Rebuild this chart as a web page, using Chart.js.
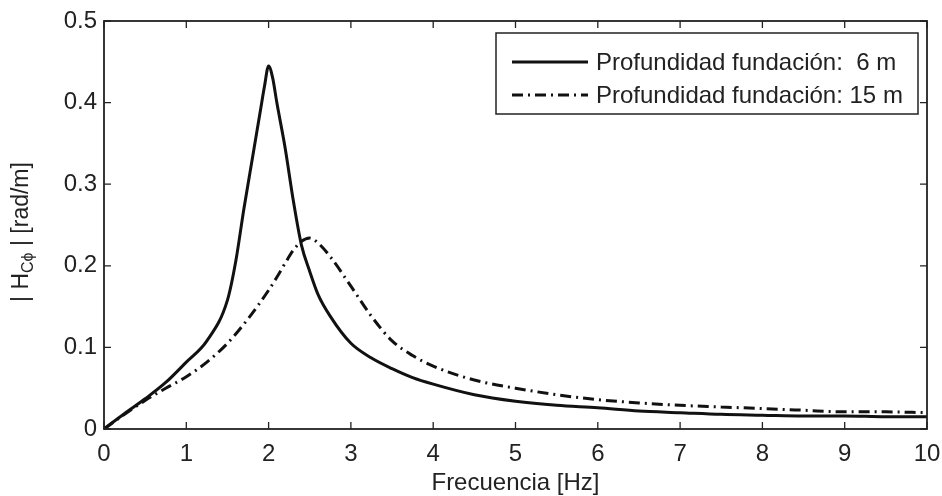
<!DOCTYPE html>
<html>
<head>
<meta charset="utf-8">
<script src="https://cdn.jsdelivr.net/npm/chart.js@4/dist/chart.umd.min.js"></script>
<style>
html,body{margin:0;padding:0;background:#fff;}
#wrap{width:942px;height:496px;}
</style>
</head>
<body>
<div id="wrap"><canvas id="c" width="942" height="496"></canvas></div>
<script>
// Data
const freq6 = [0,0.25,0.5,0.75,1,1.25,1.5,1.6,1.7,1.8,1.9,1.95,2,2.05,2.1,2.2,2.3,2.4,2.5,2.6,2.75,3,3.25,3.5,3.75,4,4.5,5,5.5,6,6.5,7,7.5,8,8.5,9,9.5,10];
const h6 = [0,0.019,0.037,0.057,0.082,0.108,0.158,0.205,0.27,0.33,0.39,0.42,0.445,0.43,0.40,0.345,0.28,0.225,0.193,0.165,0.138,0.105,0.087,0.074,0.063,0.055,0.042,0.034,0.029,0.026,0.022,0.020,0.018,0.017,0.016,0.016,0.015,0.015];
const freq15 = [0,0.25,0.5,0.75,1,1.25,1.5,1.75,2,2.1,2.2,2.3,2.4,2.5,2.6,2.75,3,3.25,3.5,3.75,4,4.5,5,5.5,6,6.5,7,7.5,8,8.5,9,9.5,10];
const h15 = [0,0.018,0.035,0.05,0.064,0.082,0.105,0.135,0.17,0.186,0.203,0.219,0.23,0.234,0.228,0.211,0.175,0.138,0.108,0.09,0.077,0.06,0.05,0.042,0.036,0.032,0.029,0.027,0.025,0.023,0.021,0.021,0.02];
const seriesLabels = ['Profundidad fundación:  6 m', 'Profundidad fundación: 15 m'];
const xTicks = [0,1,2,3,4,5,6,7,8,9,10];
const yTicks = [0,0.1,0.2,0.3,0.4,0.5];
const xTitle = 'Frecuencia [Hz]';

const FONT = 'Liberation Sans, Arial, Helvetica, sans-serif';
const INK = '#222';
const DASHDOT = [11,5,2,5];

const frame = {
  id: 'frame',
  afterDraw(chart) {
    const {ctx, chartArea: a, scales} = chart;
    ctx.save();
    ctx.strokeStyle = INK;
    ctx.lineWidth = 1.8;
    ctx.strokeRect(a.left, a.top, a.right - a.left, a.bottom - a.top);
    ctx.lineWidth = 1.3;
    const tl = 7;
    ctx.beginPath();
    xTicks.forEach(v => {
      const px = scales.x.getPixelForValue(v);
      ctx.moveTo(px, a.bottom); ctx.lineTo(px, a.bottom - tl);
      ctx.moveTo(px, a.top); ctx.lineTo(px, a.top + tl);
    });
    yTicks.forEach(v => {
      const py = scales.y.getPixelForValue(v);
      ctx.moveTo(a.left, py); ctx.lineTo(a.left + tl, py);
      ctx.moveTo(a.right, py); ctx.lineTo(a.right - tl, py);
    });
    ctx.stroke();

    // legend
    const lx = 496, ly = 33, lw = 422, lh = 81;
    ctx.fillStyle = '#fff';
    ctx.fillRect(lx, ly, lw, lh);
    ctx.lineWidth = 1.5;
    ctx.strokeStyle = INK;
    ctx.strokeRect(lx, ly, lw, lh);
    const rows = [62, 95];
    chart.data.datasets.forEach((ds, i) => {
      ctx.beginPath();
      ctx.setLineDash(ds.borderDash || []);
      ctx.lineWidth = ds.borderWidth;
      ctx.strokeStyle = ds.borderColor;
      ctx.moveTo(512, rows[i]); ctx.lineTo(588, rows[i]);
      ctx.stroke();
      ctx.setLineDash([]);
      ctx.fillStyle = INK;
      ctx.font = '24px ' + FONT;
      ctx.textBaseline = 'middle';
      ctx.textAlign = 'left';
      ctx.fillText(ds.label, 596, rows[i] + 1);
    });

    // x title
    ctx.fillStyle = INK;
    ctx.font = '24px ' + FONT;
    ctx.textAlign = 'center';
    ctx.textBaseline = 'middle';
    ctx.fillText(xTitle, (a.left + a.right) / 2, 483);

    // y title with subscript
    ctx.translate(22, 232);
    ctx.rotate(-Math.PI / 2);
    ctx.textAlign = 'left';
    ctx.textBaseline = 'middle';
    const p1 = '| H', sub = 'Cϕ', p2 = ' | [rad/m]';
    ctx.font = '23px ' + FONT;
    const w1 = ctx.measureText(p1).width;
    const w3 = ctx.measureText(p2).width;
    ctx.font = '16px ' + FONT;
    const w2 = ctx.measureText(sub).width;
    const total = w1 + w2 + w3;
    let x0 = -total / 2;
    ctx.font = '23px ' + FONT;
    ctx.fillText(p1, x0, 0);
    ctx.font = '16px ' + FONT;
    ctx.fillText(sub, x0 + w1, 7);
    ctx.font = '23px ' + FONT;
    ctx.fillText(p2, x0 + w1 + w2, 0);
    ctx.restore();
  }
};

new Chart(document.getElementById('c'), {
  type: 'line',
  data: {
    datasets: [
      {
        label: seriesLabels[0],
        data: freq6.map((f, i) => ({x: f, y: h6[i]})),
        borderColor: '#111', borderWidth: 3, pointRadius: 0,
        cubicInterpolationMode: 'monotone', fill: false
      },
      {
        label: seriesLabels[1],
        data: freq15.map((f, i) => ({x: f, y: h15[i]})),
        borderColor: '#111', borderWidth: 3, pointRadius: 0, borderDash: DASHDOT,
        cubicInterpolationMode: 'monotone', fill: false
      }
    ]
  },
  options: {
    responsive: false,
    animation: false,
    devicePixelRatio: 1,
    layout: {padding: {left: 0, top: 21, right: 15, bottom: 0}},
    plugins: {legend: {display: false}, tooltip: {enabled: false}},
    scales: {
      x: {
        type: 'linear', min: 0, max: 10,
        afterBuildTicks(s) { s.ticks = xTicks.map(v => ({value: v})); },
        ticks: {font: {size: 24, family: FONT}, color: INK, padding: 11, maxRotation: 0},
        grid: {display: false, drawTicks: false},
        border: {display: false},
        afterFit(s) { s.height = 67; s.paddingLeft = 0; s.paddingRight = 0; }
      },
      y: {
        type: 'linear', min: 0, max: 0.5,
        afterBuildTicks(s) { s.ticks = yTicks.map(v => ({value: v})); },
        ticks: {font: {size: 24, family: FONT}, color: INK, padding: 7,
          callback: v => String(Math.round(v * 10) / 10)},
        grid: {display: false, drawTicks: false},
        border: {display: false},
        afterFit(s) { s.width = 104; s.paddingTop = 0; s.paddingBottom = 0; }
      }
    }
  },
  plugins: [frame]
});
</script>
</body>
</html>
